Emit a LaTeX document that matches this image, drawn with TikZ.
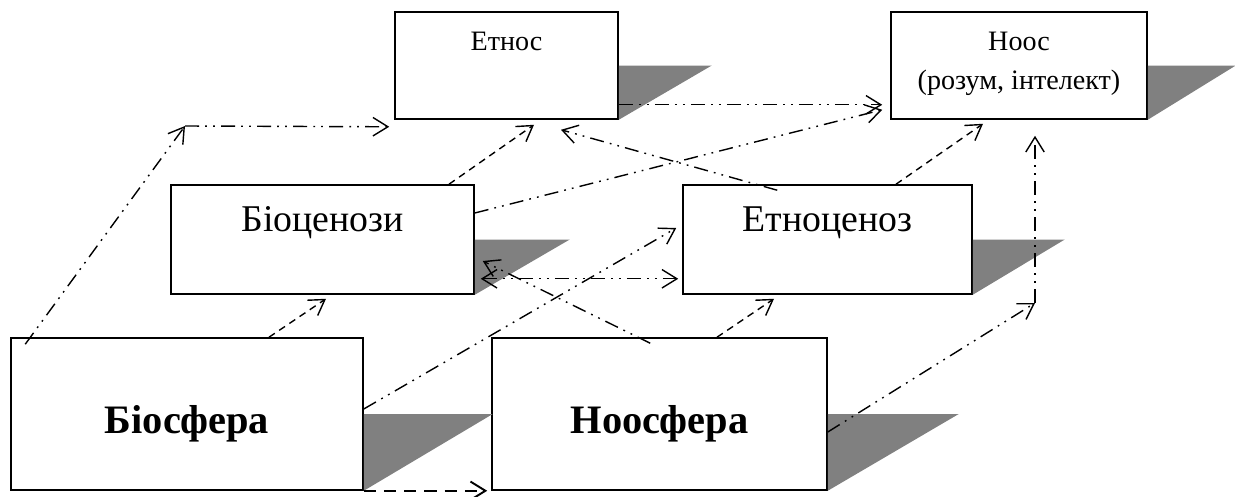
\documentclass[tikz,border=0pt]{standalone}
\usepackage{fontspec}
\setmainfont{Liberation Serif}
\usetikzlibrary{arrows.meta,calc}

\tikzset{
    box/.style={draw, line width=0.9pt, inner sep=0pt},
    shadowfill/.style={fill=black!50},
    tip/.tip={Straight Barb[length=8.5pt,width=10.5pt]},
    link/.style={line width=0.8pt, -tip},
    shortdash/.style={link, dash pattern=on 4pt off 3pt},
    longdash/.style={link, line width=1.1pt, dash pattern=on 7pt off 4.5pt},
    dashdotdot/.style={link, dash pattern=on 8pt off 3.5pt on 1pt off 3.5pt on 1pt off 3.5pt},
    bigtext/.style={font=\fontsize{23}{27}\selectfont\bfseries, inner sep=0pt},
    midtext/.style={font=\fontsize{21.5}{26}\selectfont, inner sep=0pt},
    smalltext/.style={font=\fontsize{16}{22}\selectfont, inner sep=0pt, align=center}
}

\begin{document}
\begin{tikzpicture}[x=0.02cm, y=-0.02cm]
        \useasboundingbox (0,0) rectangle (1235,497);
        % boxes
        \node[box, minimum width=4.46cm, minimum height=2.14cm] (etnos) at (506.5,65.5) {};
        \node[box, minimum width=5.12cm, minimum height=2.14cm] (noos) at (1019,65.5) {};
        \node[box, minimum width=6.06cm, minimum height=2.18cm] (bioc) at (322.5,239.5) {};
        \node[box, minimum width=5.78cm, minimum height=2.18cm] (etnoc) at (827.5,239.5) {};
        \node[box, minimum width=7.04cm, minimum height=3.04cm] (bios) at (187,414) {};
        \node[box, minimum width=6.70cm, minimum height=3.04cm] (noosf) at (659.5,414) {};
        % shadows
        \foreach \n/\w in {etnos/93, noos/88, bioc/95, etnoc/92, bios/129, noosf/131}
            \fill[shadowfill] (\n.east) -- ++(\w,0) -- (\n.south east) -- cycle;
        % texts
        \node[smalltext, anchor=north] (tetnos) at ($(etnos.north)+(0,21)$) {Етнос};
        \node[smalltext, anchor=north] (tnoos) at ($(noos.north)+(0,21)$) {Ноос\\(розум, інтелект)};
        \node[midtext, anchor=base] (tbioc) at ($(bioc.center)+(0,-8)$) {Біоценози};
        \node[midtext, anchor=base] (tetnoc) at ($(etnoc.center)+(0,-8)$) {Етноценоз};
        \node[bigtext, anchor=base] (tbios) at ($(bios.center)+(0,19)$) {Біосфера};
        \node[bigtext, anchor=base] (tnoosf) at ($(noosf.center)+(0,19)$) {Ноосфера};
        % corners of the broken arrows
        \coordinate (cA) at (185,126);
        \coordinate (cB) at (1035,303);
        % arrows
        \draw[dashdotdot] ($(bios.north west)+(15,7)$) -- (cA);
        \draw[dashdotdot] (cA) -- ($(etnos.south west)+(-5,7)$);
        \draw[dashdotdot] ($(etnos.south east)+(0,-15)$) -- ($(noos.south west)+(-8,-15)$);
        \draw[dashdotdot] ($(bioc.east)+(0,-26.5)$) -- ($(noos.south west)+(-8,-10)$);
        \draw[dashdotdot] ($(etnoc.north west)+(95,6)$) -- ($(etnos.south)+(54.5,10)$);
        \draw[shortdash] ($(bioc.north)+(126.5,0)$) -- ($(etnos.south)+(27.5,5)$);
        \draw[shortdash] ($(etnoc.north)+(68.5,0)$) -- ($(noos.south)+(-36,4)$);
        \draw[dashdotdot] ($(noosf.east)+(0,18)$) -- (cB);
        \draw[dashdotdot] (cB) -- ($(noos.south)+(16,16)$);
        \draw[dashdotdot] ($(bios.east)+(0,-5)$) -- ($(etnoc.west)+(-6,-11.5)$);
        \draw[dashdotdot, tip-tip] ($(bioc.south east)+(6,-16)$) -- ($(etnoc.south west)+(-4,-16)$);
        \draw[dashdotdot] ($(noosf.north west)+(159,6)$) -- ($(bioc.east)+(8,21.5)$);
        \draw[shortdash] ($(bios.north)+(82,0)$) -- ($(bioc.south)+(3.5,4)$);
        \draw[shortdash] ($(noosf.north)+(57.5,0)$) -- ($(etnoc.south)+(-53.5,4)$);
        \draw[longdash] (bios.south east) -- ($(noosf.south west)+(-4,0)$);
    \end{tikzpicture}
\end{document}
